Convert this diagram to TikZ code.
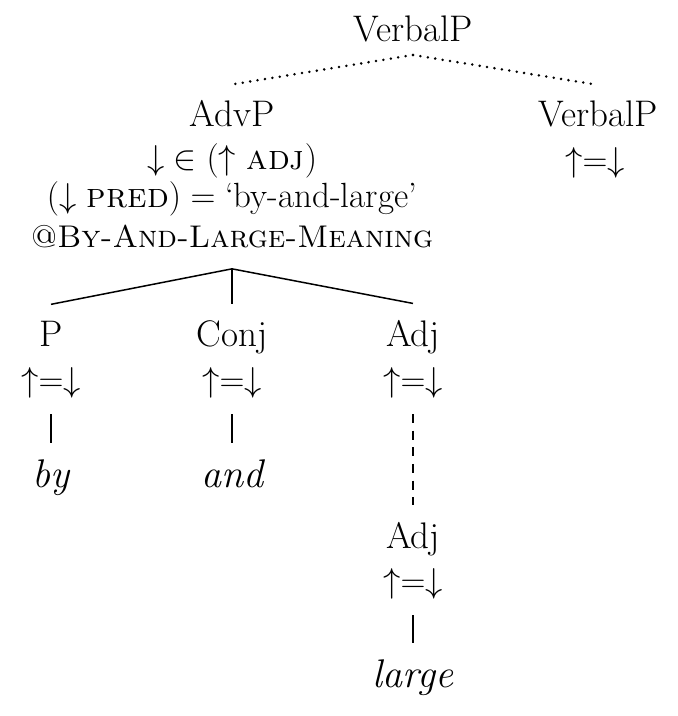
\documentclass[tikz,border=0pt]{standalone}
\usepackage{fontspec}

\newcommand{\upeqdown}{$\mathord{\uparrow}\mathord{=}\mathord{\downarrow}$}

\begin{document}
\begin{tikzpicture}[x=0.5pt, y=-0.5pt,
    every node/.style={font=\fontsize{17.5}{21}\selectfont, anchor=base, inner xsep=0pt, inner ysep=8pt},
    cat/.style={font=\fontsize{18.5}{22}\selectfont},
    word/.style={font=\fontsize{20}{24}\selectfont\itshape},
    meaning/.style={font=\fontsize{15.7}{19}\selectfont\scshape, inner ysep=10pt},
    edge/.style={line width=0.75pt},
    dotline/.style={line width=1.4pt, line cap=round, dash pattern=on 0pt off 3.75pt},
    dashline/.style={line width=0.75pt, dash pattern=on 4.5pt off 3.8pt}
  ]
    \useasboundingbox (0,0) rectangle (678,716);
    % top
    \node[cat, inner ysep=6pt] (vp) at (413,42) {VerbalP};
    \node[cat] (advp) at (232,127) {AdvP};
    \node (advin) at (232,170) {$\mathord{\downarrow}\in(\mathord{\uparrow}\ \textsc{adj})$};
    \node (advpred) at (232,208) {$(\mathord{\downarrow}\ \textsc{pred}) = \mbox{`by-and-large'}$};
    \node[meaning] (advmeaning) at (232,248) {@By-And-Large-Meaning};
    \node[cat] (vp2) at (598,127) {VerbalP};
    \node (vp2eq) at (595,172) {\upeqdown};
    % daughters of AdvP
    \node[cat] (p) at (51,346) {P};
    \node (peq) at (51,391) {\upeqdown};
    \node[word] (by) at (51,487) {by};
    \node[cat] (conj) at (232,346) {Conj};
    \node (conjeq) at (232,391) {\upeqdown};
    \node[word] (and) at (232,487) {and};
    \node[cat] (adj) at (413,346) {Adj};
    \node (adjeq) at (413,391) {\upeqdown};
    \node[cat] (adjb) at (413,548) {Adj};
    \node (adjbeq) at (413,592) {\upeqdown};
    \node[word] (large) at (413,687) {large};

    \draw[dotline] (vp.south) -- (advp.north);
    \draw[dotline] (vp.south) -- (vp2.north);
    \draw[edge] (advmeaning.south) -- (p.north);
    \draw[edge] (advmeaning.south) -- (conj.north);
    \draw[edge] (advmeaning.south) -- (adj.north);
    \draw[edge] (peq.south) -- (by.north);
    \draw[edge] (conjeq.south) -- (and.north);
    \draw[dashline] (adjeq.south) -- (adjb.north);
    \draw[edge] (adjbeq.south) -- (large.north);
\end{tikzpicture}
\end{document}
